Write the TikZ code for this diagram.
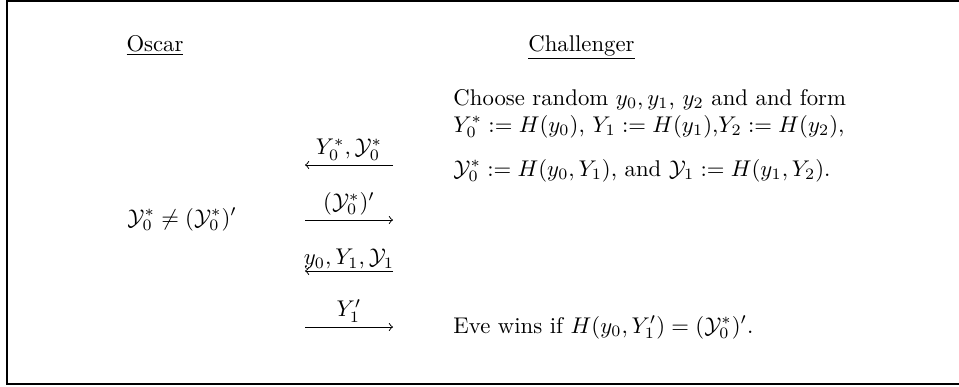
\documentclass[tikz,border=0pt]{standalone}
\usepackage{amsmath,amssymb}
\begin{document}
\begin{tikzpicture}[x=0.44pt,y=-0.44pt,
  txt/.style={anchor=base west, inner sep=0pt},
  head/.style={anchor=base, inner sep=0pt},
  msg/.style={->, line width=0.4pt},
  lab/.style={above, inner sep=2pt}]
\useasboundingbox (0,0) rectangle (959,386);
\begin{scope}
\clip (0,0) rectangle (959,386);
\draw[line width=0.6pt] (7,1) rectangle (1000,384);
\end{scope}
% headers
\node[head] (oscar) at (155,51) {\underline{Oscar}};
\node[head] (chal) at (581.5,51) {\underline{Challenger}};
% challenger text
\node[txt] (c1) at (453,105) {Choose random $y_0, y_1$, $y_2$ and and form};
\node[txt] (c2) at (453,132) {$Y_0^* := H(y_0)$, $Y_1 := H(y_1)$,$Y_2 := H(y_2)$,};
\node[txt] (c3) at (453,176) {$\mathcal{Y}_0^* := H(y_0, Y_1)$, and $\mathcal{Y}_1 := H(y_1, Y_2)$.};
% oscar text
\node[txt] (o1) at (127,225) {$\mathcal{Y}_0^* \neq (\mathcal{Y}_0^*)'$};
% final
\node[txt] (e1) at (453,333) {Eve wins if $H(y_0, Y_1') = (\mathcal{Y}_0^*)'$.};
% arrows
\coordinate (a1l) at (305,165); \coordinate (a1r) at (393,165);
\coordinate (a2l) at (305,220); \coordinate (a2r) at (393,220);
\coordinate (a3l) at (305,271); \coordinate (a3r) at (393,271);
\coordinate (a4l) at (305,327); \coordinate (a4r) at (393,327);
\draw[msg] (a1r) -- node[lab] {$Y_0^*, \mathcal{Y}_0^*$} (a1l);
\draw[msg] (a2l) -- node[lab] {$(\mathcal{Y}_0^*)'$} (a2r);
\draw[msg] (a3r) -- node[lab, inner sep=0.5pt] {$y_0, Y_1, \mathcal{Y}_1$} (a3l);
\draw[msg] (a4l) -- node[lab] {$Y_1'$} (a4r);
\end{tikzpicture}
\end{document}
